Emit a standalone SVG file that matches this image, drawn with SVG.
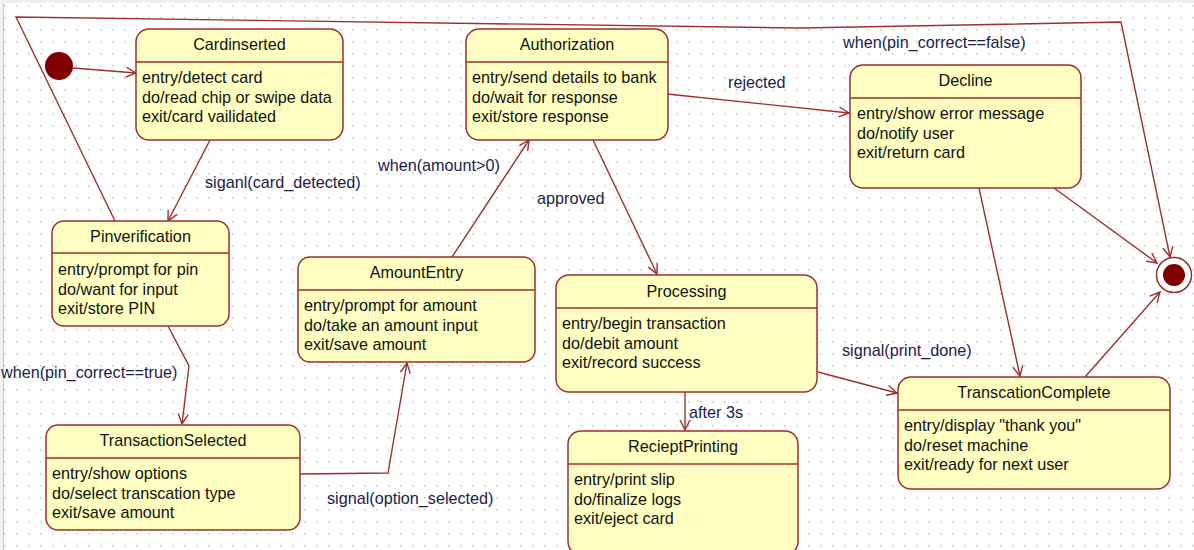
<svg xmlns="http://www.w3.org/2000/svg" width="1194" height="550" viewBox="0 0 1194 550">
<style>
.st{fill:#FFFFC2;stroke:#9E2F2F;stroke-width:1.5}
.hd{stroke:#9E2F2F;stroke-width:1.5}
.t{font-family:"Liberation Sans",Arial,sans-serif;font-size:16.2px;fill:#111}
.tt{font-family:"Liberation Sans",Arial,sans-serif;font-size:16.2px;fill:#111;text-anchor:middle}
.lb{font-family:"Liberation Sans",Arial,sans-serif;font-size:16.2px;fill:#1c1c48}
.c{fill:none;stroke:#9E2F2F;stroke-width:1.4;marker-end:url(#arr)}
</style>
<defs>
<pattern id="dots" x="4" y="5" width="12" height="12" patternUnits="userSpaceOnUse">
<rect x="0" y="0" width="1.5" height="1.5" fill="#c4c4c4"/>
</pattern>
<marker id="arr" markerWidth="12" markerHeight="12" refX="11" refY="6" orient="auto" markerUnits="userSpaceOnUse">
<path d="M1,1 L11,6 L1,11" fill="none" stroke="#9E2F2F" stroke-width="1.4"/>
</marker>
</defs>
<rect width="1194" height="550" fill="#fff"/>
<rect width="1194" height="550" fill="url(#dots)"/>
<rect x="0" y="0" width="1194" height="3" fill="#efefef"/>
<rect x="0" y="0" width="3" height="550" fill="#f2f2f2"/>
<line x1="3.5" y1="3" x2="3.5" y2="550" stroke="#c8c8c8" stroke-width="1"/>

<g id="connectors">
<path class="c" d="M73,68 L136,73"/>
<path class="c" d="M210,140 L168,221"/>
<path class="c" d="M115,221 L16,17 L800,28 L1121,22 L1170,257"/>
<path class="c" d="M168,326 L189,366 L182,424"/>
<path class="c" d="M300,474 L388,473 L407,363"/>
<path class="c" d="M452,257 L529,140"/>
<path class="c" d="M593,140 L657,274"/>
<path class="c" d="M667,94 L849,113"/>
<path class="c" d="M685,392 L685,430"/>
<path class="c" d="M818,372 L897,393"/>
<path class="c" d="M979,188 L1020,376"/>
<path class="c" d="M1054,188 L1157,263"/>
<path class="c" d="M1085,377 L1160,292"/>
<text class="lb" x="205" y="188">siganl(card_detected)</text>
<text class="lb" x="378" y="171">when(amount&gt;0)</text>
<text class="lb" x="728" y="88">rejected</text>
<text class="lb" x="537" y="204">approved</text>
<text class="lb" x="843" y="48">when(pin_correct==false)</text>
<text class="lb" x="1" y="378">when(pin_correct==true)</text>
<text class="lb" x="327" y="504">signal(option_selected)</text>
<text class="lb" x="842" y="356">signal(print_done)</text>
<text class="lb" x="689" y="418">after 3s</text>
</g>

<g id="initial">
<circle cx="59" cy="66" r="14" fill="#800000"/>
</g>

<g id="final">
<circle cx="1174" cy="275" r="17.5" fill="#fff" stroke="#9E2F2F" stroke-width="1.5"/>
<circle cx="1174" cy="275" r="11" fill="#800000"/>
</g>

<g id="Cardinserted">
<rect class="st" x="136" y="29" width="207" height="111" rx="13"/>
<line class="hd" x1="136" y1="62" x2="343" y2="62"/>
<text class="tt" x="239.5" y="50">Cardinserted</text>
<text class="t" x="142" y="83">entry/detect card</text>
<text class="t" x="142" y="103">do/read chip or swipe data</text>
<text class="t" x="142" y="122">exit/card vailidated</text>
</g>

<g id="Authorization">
<rect class="st" x="466" y="29" width="202" height="111" rx="13"/>
<line class="hd" x1="466" y1="62" x2="668" y2="62"/>
<text class="tt" x="567" y="50">Authorization</text>
<text class="t" x="472" y="83">entry/send details to bank</text>
<text class="t" x="472" y="103">do/wait for response</text>
<text class="t" x="472" y="122">exit/store response</text>
</g>

<g id="Decline">
<rect class="st" x="850" y="65" width="231" height="123" rx="13"/>
<line class="hd" x1="850" y1="98" x2="1081" y2="98"/>
<text class="tt" x="965.5" y="86">Decline</text>
<text class="t" x="857" y="119">entry/show error message</text>
<text class="t" x="857" y="139">do/notify user</text>
<text class="t" x="857" y="158">exit/return card</text>
</g>

<g id="Pinverification">
<rect class="st" x="52" y="221" width="177" height="105" rx="12"/>
<line class="hd" x1="52" y1="253" x2="229" y2="253"/>
<text class="tt" x="140.5" y="242">Pinverification</text>
<text class="t" x="58" y="275">entry/prompt for pin</text>
<text class="t" x="58" y="295">do/want for input</text>
<text class="t" x="58" y="314">exit/store PIN</text>
</g>

<g id="AmountEntry">
<rect class="st" x="298" y="257" width="237" height="105" rx="12"/>
<line class="hd" x1="298" y1="290" x2="535" y2="290"/>
<text class="tt" x="416.5" y="278">AmountEntry</text>
<text class="t" x="304" y="311">entry/prompt for amount</text>
<text class="t" x="304" y="331">do/take an amount input</text>
<text class="t" x="304" y="350">exit/save amount</text>
</g>

<g id="TransactionSelected">
<rect class="st" x="46" y="425" width="254" height="105" rx="12"/>
<line class="hd" x1="46" y1="458" x2="300" y2="458"/>
<text class="tt" x="173" y="446">TransactionSelected</text>
<text class="t" x="52" y="479">entry/show options</text>
<text class="t" x="52" y="499">do/select transcation type</text>
<text class="t" x="52" y="518">exit/save amount</text>
</g>

<g id="Processing">
<rect class="st" x="556" y="275" width="261" height="117" rx="13"/>
<line class="hd" x1="556" y1="308" x2="817" y2="308"/>
<text class="tt" x="686.5" y="297">Processing</text>
<text class="t" x="562" y="329">entry/begin transaction</text>
<text class="t" x="562" y="349">do/debit amount</text>
<text class="t" x="562" y="368">exit/record success</text>
</g>

<g id="RecieptPrinting">
<rect class="st" x="568" y="431" width="230" height="124" rx="13"/>
<line class="hd" x1="568" y1="464" x2="798" y2="464"/>
<text class="tt" x="683" y="452">RecieptPrinting</text>
<text class="t" x="574" y="485">entry/print slip</text>
<text class="t" x="574" y="505">do/finalize logs</text>
<text class="t" x="574" y="524">exit/eject card</text>
</g>

<g id="TranscationComplete">
<rect class="st" x="898" y="377" width="272" height="112" rx="13"/>
<line class="hd" x1="898" y1="410" x2="1170" y2="410"/>
<text class="tt" x="1034" y="398">TranscationComplete</text>
<text class="t" x="904" y="431">entry/display "thank you"</text>
<text class="t" x="904" y="451">do/reset machine</text>
<text class="t" x="904" y="470">exit/ready for next user</text>
</g>
</svg>
